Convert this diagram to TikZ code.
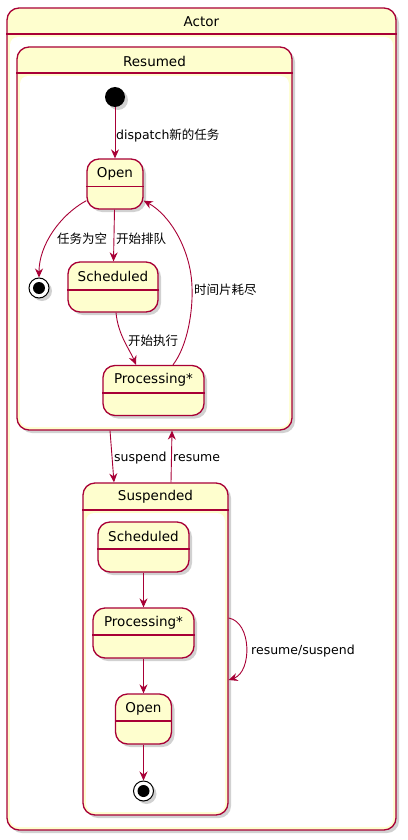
\documentclass[tikz,border=0pt]{standalone}
\usepackage{fontspec}
\setmainfont{DejaVu Sans}
\newfontfamily\cjk{Noto Sans CJK SC}
\usetikzlibrary{arrows.meta,shadows}
\definecolor{pred}{HTML}{A80036}
\definecolor{pfill}{HTML}{FEFECE}
\tikzset{
  shd/.style={drop shadow={shadow xshift=3pt,shadow yshift=-3pt,fill=black!40,opacity=0.45}},
  stbox/.style={draw=pred, line width=1.3pt, fill=pfill, rounded corners=12pt, shd, inner sep=0pt},
  comp/.style={stbox},
  sepline/.style={draw=pred, line width=1.3pt},
  nm/.style={font=\fontsize{13.5}{16}\selectfont, inner sep=0pt, text=black},
  lbl/.style={font=\fontsize{12.5}{15}\selectfont, inner sep=0pt, anchor=west, text=black},
  arr/.style={draw=pred, line width=0.9pt, -{Stealth[length=9pt,width=8pt,inset=3pt]}},
  cbody/.style={fill=white, rounded corners=8pt},
  initst/.style={circle, fill=black, minimum size=20pt, inner sep=0pt, shd},
  endst/.style={circle, draw=black, line width=1pt, fill=white, minimum size=20pt, inner sep=0pt, shd},
}
\newcommand\mkstate[8]{%
  \node[stbox, minimum width=#4pt, minimum height=#5pt] (#1) at (#2,#3) {};
  \draw[sepline] (#1.west |- 0,#6) -- (#1.east |- 0,#6);
  \node[nm] (#1T) at (#2,#7) {#8};
}
\begin{document}
\begin{tikzpicture}[x=1pt,y=-1pt]
\useasboundingbox (0,0) rectangle (407,840);
% Actor
\node[comp, minimum width=389pt, minimum height=822pt] (actor) at (201.5,419) {};
\fill[cbody] (10,37) rectangle (393,827);
\draw[sepline] (actor.west |- 0,34) -- (actor.east |- 0,34);
\node[nm] (actorT) at (201.5,21.5) {Actor};
% Resumed
\node[comp, minimum width=275pt, minimum height=383pt] (resumed) at (154.5,238.5) {};
\fill[cbody] (20,76) rectangle (289,427);
\draw[sepline] (resumed.west |- 0,73) -- (resumed.east |- 0,73);
\node[nm] (resumedT) at (154.5,61) {Resumed};
\node[initst] (rinit) at (115,97) {};
\mkstate{ropen}{115}{184}{56}{50}{186.7}{173.5}{Open}
\mkstate{rsched}{113}{287}{90}{50}{290}{276.5}{Scheduled}
\mkstate{rproc}{153.5}{390.5}{101}{50}{393}{379.5}{Processing*}
\node[endst] (rend) at (39,288) {};
\fill[black] (rend.center) circle (6pt);
% Suspended
\node[comp, minimum width=145pt, minimum height=332pt] (suspended) at (155.5,649) {};
\fill[cbody] (86,513) rectangle (225,812);
\draw[sepline] (suspended.west |- 0,510) -- (suspended.east |- 0,510);
\node[nm] (suspendedT) at (155.5,496.5) {Suspended};
\mkstate{ssched}{143.5}{547}{91}{50}{549}{536.5}{Scheduled}
\mkstate{sproc}{143.5}{633}{101}{50}{635}{622.5}{Processing*}
\mkstate{sopen}{143.5}{719}{56}{50}{721}{708.5}{Open}
\node[endst] (send) at (143.5,791) {};
\fill[black] (send.center) circle (6pt);
% arrows in Resumed
\draw[arr] (rinit) -- (ropen);
\draw[arr] ([yshift=9pt]ropen.south west) .. controls (60,215) and (39,245) .. (rend.north);
\draw[arr] (ropen) -- (rsched);
\draw[arr] ([xshift=3pt]rsched.south) .. controls (118,335) and (130,350) .. ([xshift=-17.5pt]rproc.north);
\draw[arr] ([xshift=19.5pt]rproc.north) .. controls (188,345) and (193,310) .. (192,287) .. controls (191,250) and (170,215) .. ([yshift=9pt]ropen.south east);
% arrows in Suspended
\draw[arr] (ssched) -- (sproc);
\draw[arr] (sproc) -- (sopen);
\draw[arr] (sopen) -- (send);
% between composites
\draw[arr] ([xshift=-44.5pt]resumed.south) -- ([xshift=-41.5pt]suspended.north);
\draw[arr] ([xshift=15.5pt]suspended.north) -- ([xshift=17.5pt]resumed.south);
\draw[arr] ([yshift=31pt]suspended.east) .. controls (252,622) and (252,672) .. ([yshift=-31pt]suspended.east);
% labels
\node[lbl] (l1) at (116,136) {dispatch{\cjk 新的任务}};
\node[lbl] (l2) at (57,239) {{\cjk 任务为空}};
\node[lbl] (l3) at (116,239) {{\cjk 开始排队}};
\node[lbl] (l4) at (128,341) {{\cjk 开始执行}};
\node[lbl] (l5) at (194,290) {{\cjk 时间片耗尽}};
\node[lbl] (l6) at (114,458) {suspend};
\node[lbl] (l7) at (173,458) {resume};
\node[lbl] (l8) at (251,651) {resume/suspend};
\end{tikzpicture}
\end{document}
